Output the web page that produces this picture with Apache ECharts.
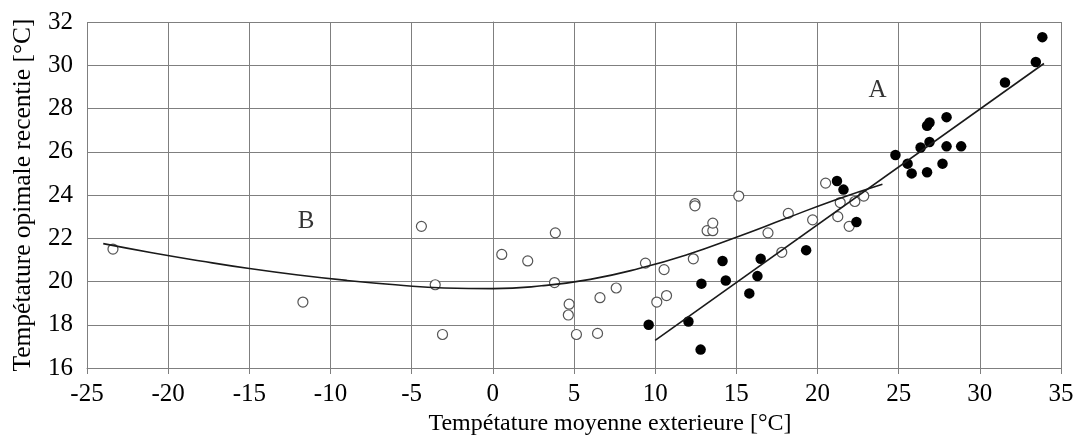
<!DOCTYPE html>
<html><head><meta charset="utf-8">
<script src="https://cdn.jsdelivr.net/npm/echarts@6/dist/echarts.min.js"></script>
<style>html,body{margin:0;padding:0;background:#fff}#c{width:1077px;height:446px}</style>
</head><body><div id="c"></div>
<script>
const xTicks = [-25, 35, 5];
const yTicks = [16, 32, 2];
const openPts = [[-23.4,21.5],[-11.7,19.05],[-4.4,22.55],[-3.55,19.85],[-3.1,17.55],[0.55,21.25],[2.15,20.95],[3.85,22.25],[3.8,19.95],[4.7,18.95],[4.65,18.45],[5.15,17.55],[6.45,17.6],[6.6,19.25],[7.6,19.7],[9.4,20.85],[10.55,20.55],[10.1,19.05],[10.7,19.35],[12.35,21.05],[12.45,23.6],[12.45,23.5],[13.2,22.35],[13.55,22.35],[13.55,22.7],[15.15,23.95],[16.95,22.25],[17.8,21.35],[18.2,23.15],[19.7,22.85],[20.5,24.55],[21.25,23.0],[21.4,23.65],[21.95,22.55],[22.3,23.7],[22.85,23.95]];
const filledPts = [[9.6,18.0],[12.05,18.15],[12.8,16.85],[12.85,19.9],[14.15,20.95],[14.35,20.05],[15.8,19.45],[16.3,20.25],[16.5,21.05],[19.3,21.45],[21.2,24.65],[21.6,24.25],[22.4,22.75],[24.8,25.85],[25.55,25.45],[25.8,25.0],[26.75,25.05],[27.7,25.45],[26.35,26.2],[26.9,26.45],[27.95,26.25],[28.85,26.25],[26.75,27.2],[26.9,27.35],[27.95,27.6],[31.55,29.2],[33.45,30.15],[33.85,31.3]];
const curveB = [[-24,21.75],[-21,21.33],[-18,20.95],[-15,20.6],[-12,20.3],[-9,20.05],[-6,19.85],[-3,19.7],[0,19.67],[3,19.8],[6,20.1],[9,20.6],[12,21.25],[15,22.05],[18,22.9],[21,23.75],[24,24.5]];
const lineA = [[10,17.28],[33.95,30.08]];
const labels = [[-11.5,22.8,'B'],[23.7,28.85,'A']];
const xName = 'Tempétature moyenne exterieure [°C]';
const yName = 'Tempétature opimale recentie [°C]';

const font = 'Liberation Serif';
const gridColor = '#7f7f7f';
const chart = echarts.init(document.getElementById('c'));
chart.setOption({
  animation:false,
  grid:{left:87,right:16,top:22,bottom:78},
  xAxis:{type:'value',min:xTicks[0],max:xTicks[1],interval:xTicks[2],
    name:xName,nameLocation:'middle',nameGap:41,
    nameTextStyle:{fontFamily:font,fontSize:24,color:'#000',padding:[0,0,0,72]},
    axisLine:{lineStyle:{color:gridColor}},axisTick:{show:true,length:6,lineStyle:{color:gridColor}},
    axisLabel:{fontFamily:font,fontSize:25,color:'#000',margin:14},
    splitLine:{show:true,lineStyle:{color:gridColor,width:1}}},
  yAxis:{type:'value',min:yTicks[0],max:yTicks[1],interval:yTicks[2],
    name:yName,nameLocation:'middle',nameGap:51,
    nameTextStyle:{fontFamily:font,fontSize:25.5,color:'#000'},
    axisLine:{show:true,lineStyle:{color:gridColor}},axisTick:{show:true,length:6,lineStyle:{color:gridColor}},
    axisLabel:{fontFamily:font,fontSize:25,color:'#000',margin:14},
    splitLine:{show:true,lineStyle:{color:gridColor,width:1}}},
  series:[
    {type:'scatter',data:openPts,symbol:'circle',symbolSize:10,
      itemStyle:{color:'#fff',borderColor:'#555',borderWidth:1.2,opacity:1}},
    {type:'scatter',data:filledPts,symbol:'circle',symbolSize:10.5,
      itemStyle:{color:'#000',opacity:1}},
    {type:'line',data:curveB,smooth:0.5,symbol:'none',lineStyle:{color:'#1a1a1a',width:1.6}},
    {type:'line',data:lineA,symbol:'none',lineStyle:{color:'#1a1a1a',width:1.6}},
    {type:'scatter',data:labels,symbolSize:0,
      label:{show:true,position:'inside',formatter:p=>p.data[2],fontFamily:font,fontSize:25,color:'#000'}}
  ]
});
</script></body></html>
